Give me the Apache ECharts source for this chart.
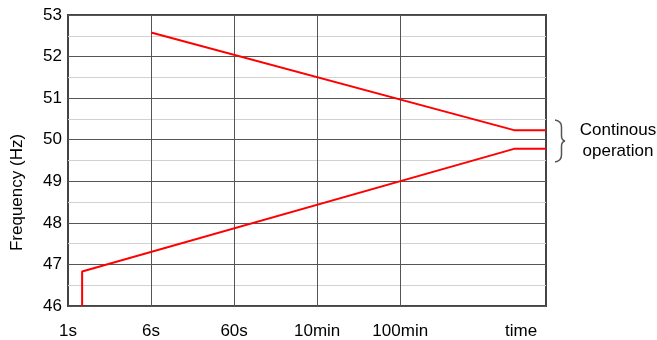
<!DOCTYPE html>
<html>
<head>
<meta charset="utf-8">
<script src="https://cdn.jsdelivr.net/npm/echarts@6/dist/echarts.min.js"></script>
<style>html,body{margin:0;padding:0;background:#fff}#c{width:657px;height:340px}</style>
</head>
<body>
<div id="c"></div>
<script>
// x positions: 0=1s, 1=6s, 2=60s, 3=10min, 4=100min, 5.455=time
const tickPos = [0, 1, 2, 3, 4, 5.455];
const tickLabels = ['1s', '6s', '60s', '10min', '100min', 'time'];
const gridX = [1, 2, 3, 4];
const xMax = 5.755;
const upperTime = [1, 5.37, 5.755];
const upperFreq = [52.58, 50.23, 50.23];
const lowerTime = [0.17, 0.17, 5.37, 5.755];
const lowerFreq = [46, 46.83, 49.78, 49.78];

const font = 'Liberation Sans, Arial, sans-serif';
const zip = (a, b) => a.map((v, i) => [v, b[i]]);
const braceStyle = { stroke: '#555', lineWidth: 1.5, fill: 'none' };

const chart = echarts.init(document.getElementById('c'));
chart.setOption({
  animation: false,
  grid: { left: 68, top: 15, right: 111, bottom: 34, show: true, borderColor: '#444', borderWidth: 2, containLabel: false },
  xAxis: {
    type: 'value', min: 0, max: xMax,
    axisLine: { show: false },
    axisTick: { show: false },
    splitLine: { show: false },
    axisLabel: {
      customValues: tickPos,
      formatter: v => { const i = tickPos.findIndex(p => Math.abs(p - v) < 1e-6); return i >= 0 ? tickLabels[i] : ''; },
      color: '#000', fontSize: 17, fontFamily: font, margin: 17
    }
  },
  yAxis: {
    type: 'value', min: 46, max: 53, interval: 0.5,
    name: 'Frequency (Hz)', nameLocation: 'middle', nameGap: 42,
    nameTextStyle: { color: '#000', fontSize: 17, fontFamily: font, padding: [0, 64, 0, 0] },
    axisLine: { show: false },
    axisTick: { show: false },
    axisLabel: {
      formatter: v => (Math.abs(v - Math.round(v)) < 1e-6 ? String(Math.round(v)) : ''),
      color: '#000', fontSize: 17, fontFamily: font, margin: 6
    },
    splitLine: { show: true, lineStyle: { color: ['#555', '#d2d2d2'], width: 1 } }
  },
  series: [
    {
      type: 'line', data: zip(upperTime, upperFreq), symbol: 'none', z: 3,
      lineStyle: { color: '#ff0000', width: 2 },
      markLine: {
        silent: true, symbol: 'none', label: { show: false }, z: 1,
        lineStyle: { color: '#555', width: 1, type: 'solid' },
        emphasis: { disabled: true },
        data: gridX.map(x => ({ xAxis: x }))
      }
    },
    {
      type: 'line', data: zip(lowerTime, lowerFreq), symbol: 'none', z: 3,
      lineStyle: { color: '#ff0000', width: 2 }
    }
  ],
  graphic: [
    { type: 'bezierCurve', silent: true, shape: { x1: 555, y1: 120, x2: 561.5, y2: 127, cpx1: 561.5, cpy1: 121 }, style: braceStyle },
    { type: 'line', silent: true, shape: { x1: 561.5, y1: 127, x2: 561.5, y2: 136 }, style: braceStyle },
    { type: 'bezierCurve', silent: true, shape: { x1: 561.5, y1: 136, x2: 565, y2: 141, cpx1: 561.5, cpy1: 140 }, style: braceStyle },
    { type: 'bezierCurve', silent: true, shape: { x1: 565, y1: 141, x2: 561.5, y2: 146, cpx1: 561.5, cpy1: 142 }, style: braceStyle },
    { type: 'line', silent: true, shape: { x1: 561.5, y1: 146, x2: 561.5, y2: 155 }, style: braceStyle },
    { type: 'bezierCurve', silent: true, shape: { x1: 561.5, y1: 155, x2: 555, y2: 162, cpx1: 561.5, cpy1: 161 }, style: braceStyle },
    {
      type: 'text', x: 618, y: 141, silent: true,
      style: { text: 'Continous\noperation', align: 'center', verticalAlign: 'middle', fill: '#000', font: '17px ' + font, lineHeight: 21 }
    }
  ]
});
</script>
</body>
</html>
